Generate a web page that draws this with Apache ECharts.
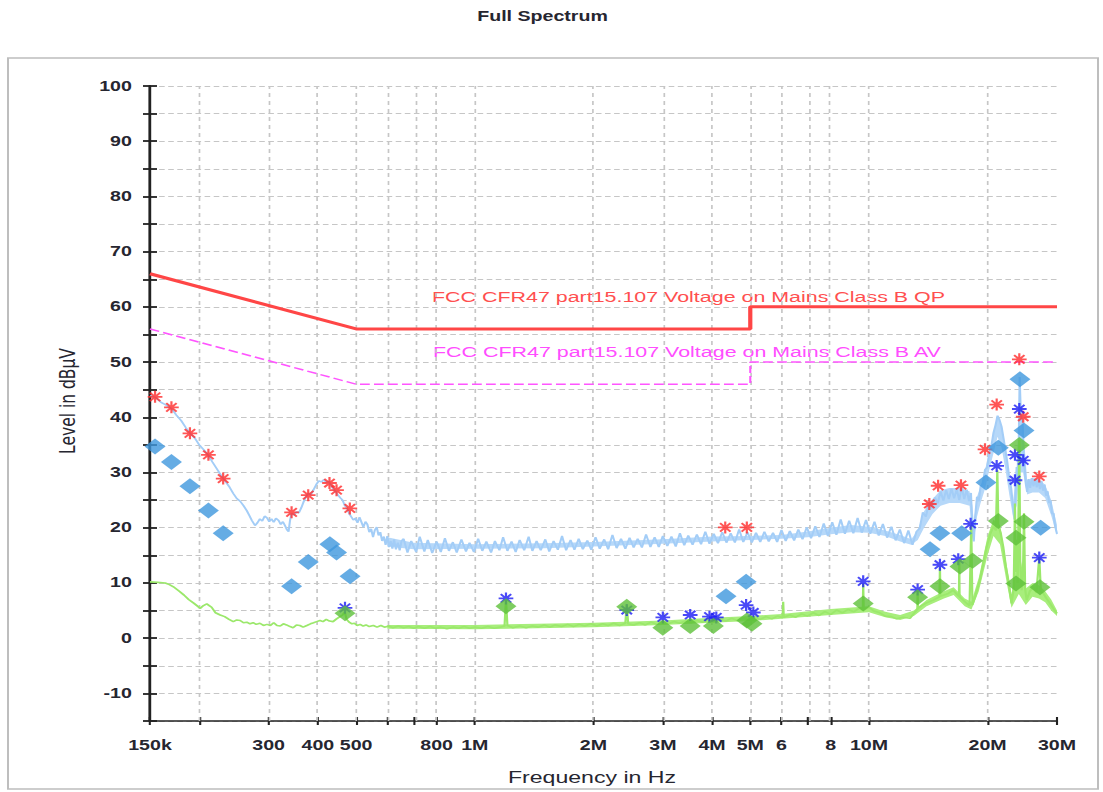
<!DOCTYPE html>
<html>
<head>
<meta charset="utf-8">
<script src="https://cdn.jsdelivr.net/npm/echarts@6/dist/echarts.min.js"></script>
<style>
  html, body { margin: 0; padding: 0; background: #fff; overflow: hidden; }
  #wrap { position: relative; width: 1103px; height: 792px; overflow: hidden; }
  #chart { position: absolute; left: 0; top: 0; height: 792px; transform-origin: 0 0; }
</style>
</head>
<body>
<div id="wrap"><div id="chart"></div></div>
<script>
// Frequencies are given in MHz, levels in dBµV.
const tickFreqs = [0.15, 0.2, 0.3, 0.4, 0.5, 0.6, 0.7, 0.8, 1, 2, 3, 4, 5, 6, 7, 8, 10, 20, 30];
const labelFreqs = [0.15, 0.3, 0.4, 0.5, 0.8, 1, 2, 3, 4, 5, 6, 8, 10, 20, 30];
const freqLabels = ['150k', '300', '400', '500', '800', '1M', '2M', '3M', '4M', '5M', '6', '8', '10M', '20M', '30M'];

// Limit lines (FCC part 15.107, class B)
const qpLimit = [[0.15, 66], [0.5, 56], [5, 56], [5, 60], [30, 60]];
const avLimit = [[0.15, 56], [0.5, 46], [5, 46], [5, 50], [30, 50]];

// Preview scan, peak detector
const qpTrace = [
  [0.150,43.9],[0.155,43.6],[0.160,42.7],[0.165,42.2],[0.170,41.6],[0.175,40.4],[0.180,39.4],[0.185,38.1],
  [0.190,37.0],[0.195,36.2],[0.200,35.0],[0.206,34.0],[0.211,33.1],[0.216,31.9],[0.222,30.6],[0.228,29.3],
  [0.233,28.4],[0.239,27.3],[0.244,26.2],[0.249,25.3],[0.254,24.8],[0.259,24.0],[0.264,23.1],[0.268,22.2],
  [0.272,21.3],[0.277,20.4],[0.281,20.9],[0.285,21.6],[0.289,21.2],[0.293,22.1],[0.297,21.8],[0.301,21.1],
  [0.305,21.6],[0.309,21.0],[0.313,21.7],[0.318,21.3],[0.322,20.6],[0.326,21.1],[0.330,20.4],[0.334,19.6],
  [0.337,19.3],[0.340,21.4],[0.343,22.6],[0.348,22.3],[0.353,22.9],[0.358,22.7],[0.363,23.6],[0.368,24.7],
  [0.373,25.6],[0.378,26.2],[0.384,26.0],[0.390,26.9],[0.396,27.8],[0.402,28.5],[0.408,28.3],[0.414,28.7],
  [0.420,28.2],[0.426,28.4],[0.432,27.6],[0.438,27.0],[0.444,26.5],[0.450,25.9],[0.456,25.4],[0.462,25.0],
  [0.468,24.0],[0.474,23.6],[0.480,22.6],[0.486,22.0],[0.492,21.4],[0.498,21.7],[0.504,20.9],[0.510,21.9],
  [0.516,21.0],[0.522,20.1],[0.528,21.1],[0.534,20.6],[0.540,19.2],[0.546,19.8],[0.552,18.3],[0.558,19.6],
  [0.564,20.1],[0.570,18.6],[0.576,19.2],[0.582,17.6],[0.588,18.4],[0.594,16.9],[0.600,18.5],[0.606,16.5],
  [0.612,17.6],[0.618,16.2],[0.624,17.9],[0.631,16.1],[0.638,17.3],[0.645,15.9],[0.652,17.6],
  [0.66,18.0],[0.675,15.5],[0.69,17.6],[0.71,15.6],[0.725,18.4],[0.745,15.7],[0.76,17.8],[0.78,15.4],
  [0.80,17.5],[0.82,15.6],[0.84,18.1],[0.86,15.8],[0.88,17.4],[0.90,15.5],[0.925,17.9],[0.95,15.7],
  [0.97,17.3],[0.995,15.6],[1.02,18.0],[1.045,15.8],[1.07,17.5],[1.10,15.5],[1.125,17.6],[1.155,15.9],
  [1.18,18.3],[1.21,15.8],[1.24,17.5],[1.27,15.6],[1.30,17.8],[1.335,15.9],[1.37,18.4],[1.40,15.8],
  [1.435,17.6],[1.47,15.9],[1.51,17.9],[1.545,15.7],[1.585,17.6],[1.625,16.0],[1.665,18.5],[1.705,15.9],
  [1.75,17.8],[1.79,16.0],[1.835,18.0],[1.88,16.1],[1.93,17.7],[1.975,16.0],[2.025,18.3],[2.075,16.2],
  [2.13,17.9],[2.18,16.1],[2.235,18.7],[2.29,16.3],[2.35,18.0],[2.41,16.2],[2.47,18.2],[2.53,16.4],
  [2.59,18.0],[2.655,16.4],[2.72,18.8],[2.79,16.5],[2.86,18.3],[2.93,16.5],[3.0,18.5],[3.08,16.7],
  [3.155,18.4],[3.235,16.6],[3.315,19.0],[3.4,16.8],[3.48,18.6],[3.57,16.9],[3.66,18.8],[3.75,17.0],
  [3.845,19.3],[3.94,17.1],[4.04,18.9],[4.14,17.2],[4.245,19.2],[4.35,17.3],[4.46,19.0],[4.57,17.3],
  [4.685,19.7],[4.8,17.4],[4.92,19.2],[5.045,17.3],[5.17,19.1],[5.3,17.4],[5.43,19.3],[5.57,17.5],
  [5.71,19.1],[5.85,17.4],[6.0,19.6],[6.15,17.6],[6.3,19.4],[6.46,17.7],[6.62,19.7],[6.785,17.9],
  [6.955,20.1],[7.13,18.1],[7.31,20.3],[7.49,18.3],[7.68,20.8],[7.87,18.5],[8.07,21.0],[8.27,18.7],
  [8.48,21.5],[8.69,18.9],[8.91,21.3],[9.13,19.0],[9.36,21.8],[9.59,19.1],[9.83,21.4],[10.08,18.9],
  [10.33,21.1],[10.59,18.6],[10.85,20.7],[11.12,18.2],[11.4,20.2],[11.69,17.7],[11.98,19.7],[12.28,17.2],
  [12.59,19.5],[12.9,16.9],[13.2,19.3],[13.45,19.9],[13.7,22.8],[13.95,22.0],[14.2,24.6],[14.45,23.5],
  [14.7,25.5],[14.95,24.4],[15.2,26.6],[15.45,24.9],[15.7,26.8],[15.95,25.2],[16.2,27.1],[16.45,25.3],
  [16.7,27.0],[16.95,25.0],[17.2,27.3],[17.45,25.2],[17.7,26.9],[17.95,24.8],[18.15,26.3],[18.3,19.5],
  [18.45,17.5],[18.6,22.0],[18.8,25.6],[19.0,24.8],[19.2,27.5],[19.45,27.9],[19.7,30.5],[19.95,30.9],
  [20.2,33.6],[20.45,34.8],[20.7,37.2],[20.95,38.6],[21.2,40.3],[21.45,39.5],[21.7,38.3],[21.95,36.2],
  [22.2,34.0],[22.45,31.8],[22.7,29.0],[22.95,27.2],[23.2,24.0],[23.4,21.5],[23.55,26.0],[23.7,31.0],
  [23.85,29.0],[24.0,36.0],[24.12,47.3],[24.25,42.0],[24.4,39.5],[24.55,38.8],[24.7,33.0],[24.85,30.5],
  [25.0,28.0],[25.2,26.5],[25.4,28.8],[25.65,27.2],[25.9,29.0],[26.15,27.5],[26.4,28.9],[26.65,27.3],
  [26.9,28.8],[27.15,27.0],[27.4,28.5],[27.65,26.7],[27.9,27.8],[28.15,25.8],[28.4,26.6],[28.65,24.5],
  [28.9,24.9],[29.15,22.5],[29.4,22.6],[29.65,20.4],[30.0,18.9]
];

// Dense core of the peak trace's noise floor: [MHz, low, high]
const qpNoiseBand = [
  [0.60,16.6,18.3],[0.70,16.1,17.3],[1.0,16.2,17.0],[1.5,16.3,17.2],[2.0,16.6,17.4],[3.0,17.1,17.9],
  [4.0,17.5,18.4],[5.0,17.8,18.5],[6.0,18.0,18.7],[7.0,18.3,19.3],[8.0,18.8,20.0],[9.0,19.2,20.5],
  [10.0,19.1,20.2],[11.0,18.5,19.5],[12.0,17.5,18.7],[12.8,16.9,17.9],[13.3,17.8,19.5],[13.8,20.0,23.0],
  [14.5,22.5,25.2],[15.2,24.0,26.8],[16.0,24.5,27.2],[17.0,24.5,27.2],[18.0,24.0,26.6],[18.3,18.5,24.0],
  [18.45,17.5,21.0],[18.8,22.0,25.6],[19.2,24.5,27.5],[19.7,27.0,30.5],[20.2,30.5,33.6],[20.7,33.5,37.2],
  [21.2,36.5,40.3],[21.7,34.5,38.3],[22.2,30.5,34.0],[22.7,26.0,29.0],[23.2,22.0,24.5],[23.7,24.0,31.0],
  [24.1,30.0,40.0],[24.6,30.0,38.5],[25.2,26.0,28.6],[26.0,26.4,29.0],[27.0,26.4,28.8],[28.0,25.4,27.8],
  [29.0,22.2,25.0],[30.0,18.6,20.5]
];

// Preview scan, average detector
const avTrace = [
  [0.150,10.2],[0.157,10.1],[0.164,10.0],[0.168,9.7],[0.172,9.3],[0.178,8.5],[0.183,7.8],[0.188,7.0],
  [0.194,6.3],[0.198,5.8],[0.201,5.4],[0.205,5.9],[0.209,6.2],[0.212,5.9],[0.215,5.6],[0.220,4.6],
  [0.226,4.2],[0.232,3.9],[0.238,3.4],[0.244,3.0],[0.249,3.3],[0.254,3.2],[0.259,2.8],[0.264,2.9],
  [0.269,2.6],[0.274,2.8],[0.279,2.5],[0.285,2.7],[0.291,2.3],[0.297,2.5],[0.303,2.3],[0.309,2.8],
  [0.315,2.3],[0.321,2.2],[0.327,2.6],[0.333,2.4],[0.340,2.1],[0.346,1.9],[0.353,2.4],[0.360,2.3],
  [0.367,2.0],[0.375,2.3],[0.383,2.6],[0.390,2.8],[0.397,3.0],[0.405,3.2],[0.412,3.0],[0.420,3.4],
  [0.428,3.1],[0.437,3.0],[0.446,3.5],[0.455,3.9],[0.462,4.2],[0.468,4.7],[0.473,3.4],[0.480,2.9],
  [0.488,2.6],[0.495,2.7],[0.503,2.3],[0.512,2.5],[0.521,2.2],[0.530,2.4],[0.540,2.1],[0.553,2.3],
  [0.565,2.0],[0.578,2.3],[0.590,2.0],[0.605,2.2],[0.62,1.9],[0.64,2.2],[0.66,1.9],[0.68,2.1],
  [0.70,1.8],[0.72,2.1],[0.745,1.8],[0.77,2.1],[0.795,1.8],[0.82,2.0],[0.85,1.7],[0.88,2.0],
  [0.91,1.8],[0.94,2.1],[0.97,1.8],[1.0,2.0],[1.04,1.8],[1.08,2.1],[1.12,1.8],[1.16,2.0],
  [1.19,2.2],[1.20,6.9],[1.21,2.3],[1.25,1.9],[1.3,2.2],[1.35,1.9],[1.4,2.2],[1.45,2.0],
  [1.5,2.4],[1.55,2.0],[1.6,2.4],[1.66,2.1],[1.72,2.5],[1.78,2.1],[1.84,2.5],[1.9,2.2],
  [1.97,2.6],[2.04,2.2],[2.11,2.6],[2.18,2.3],[2.25,2.7],[2.33,2.3],[2.41,2.7],[2.43,6.0],
  [2.45,2.6],[2.53,2.4],[2.62,2.8],[2.71,2.4],[2.8,2.9],[2.9,2.5],[3.0,2.9],[3.1,2.6],
  [3.2,3.0],[3.31,2.7],[3.42,3.1],[3.54,2.8],[3.66,3.2],[3.79,2.9],[3.92,3.3],[4.05,3.0],
  [4.19,3.4],[4.33,3.1],[4.48,3.6],[4.63,3.2],[4.79,3.6],[4.95,3.3],[5.12,3.8],[5.3,3.4],
  [5.48,3.9],[5.67,3.5],[5.86,4.0],[6.04,3.7],[6.06,6.6],[6.08,3.8],[6.3,4.2],[6.52,3.8],
  [6.75,4.4],[6.98,4.0],[7.22,4.6],[7.47,4.1],[7.73,4.8],[8.0,4.3],[8.28,5.1],[8.56,4.6],
  [8.86,5.2],[9.17,4.8],[9.48,5.5],[9.65,5.0],[9.67,9.8],[9.7,5.1],[10.0,5.6],[10.3,4.9],
  [10.66,4.6],[11.0,4.0],[11.4,3.9],[11.76,3.5],[12.2,3.8],[12.71,3.6],[13.0,4.5],[13.27,5.2],
  [13.29,8.5],[13.32,5.4],[13.6,5.9],[14.0,6.4],[14.56,6.9],[15.1,7.5],[15.14,12.8],[15.18,7.6],
  [15.9,8.1],[16.36,8.7],[16.7,8.0],[16.92,7.6],[16.95,14.0],[16.98,7.5],[17.4,6.8],[17.7,6.3],
  [18.0,5.9],[18.18,20.4],[18.3,6.0],[18.6,7.5],[19.12,10.5],[19.5,13.5],[19.89,16.5],[20.3,18.8],
  [20.68,20.2],[21.0,19.5],[21.17,30.4],[21.3,20.5],[21.6,19.0],[21.92,16.5],[22.25,13.0],[22.57,10.5],
  [23.0,6.3],[23.3,9.0],[23.47,24.4],[23.6,12.0],[23.7,17.8],[23.85,10.0],[24.07,35.9],[24.2,14.0],
  [24.4,8.7],[24.6,12.0],[24.74,22.6],[24.9,9.0],[25.13,6.9],[25.6,8.5],[26.12,9.3],[26.6,8.2],
  [27.05,14.7],[27.3,8.4],[27.7,8.1],[28.2,7.2],[28.8,6.3],[29.4,5.3],[30.0,4.5]
];

// Dense core of the average trace's noise floor: [MHz, low, high]
const avNoiseBand = [
  [0.60,1.7,2.4],[1.0,1.6,2.4],[2.0,2.0,2.8],[3.0,2.4,3.2],[4.0,2.8,3.7],[5.0,3.1,4.0],[6.0,3.5,4.4],
  [8.0,4.2,5.3],[10.0,4.7,5.8],[11.0,3.8,4.8],[12.0,3.3,4.2],[13.0,4.0,5.0],[14.0,5.8,6.9],[15.5,7.2,8.5],
  [16.4,7.8,9.2],[17.5,5.8,7.2],[18.2,5.2,6.6],[19.0,8.5,11.0],[20.0,15.0,18.5],[20.7,18.5,21.5],
  [21.5,17.0,20.5],[22.5,9.0,12.0],[23.0,5.5,8.0],[24.0,8.0,16.0],[25.0,6.0,9.0],[26.0,7.5,10.0],
  [27.0,7.2,9.6],[28.0,6.5,8.5],[29.0,5.0,7.0],[30.0,4.0,5.0]
];

// Peaks found in the preview scans
const qpPeaks = [
  [0.1545,43.7],[0.170,41.8],[0.1894,37.1],[0.211,33.2],[0.230,28.9],[0.343,22.8],[0.378,25.9],
  [0.428,28.1],[0.446,26.8],[0.482,23.5],[4.32,20.05],[4.90,20.05],[14.23,24.3],[14.98,27.6],
  [17.12,27.7],[19.70,34.2],[21.09,42.3],[24.07,50.5],[24.63,40.1],[27.05,29.3]
];
const avPeaks = [
  [0.4686,5.5],[1.2,7.2],[2.43,5.1],[3.0,3.75],[3.52,4.2],[3.94,3.9],[4.10,3.75],[4.88,6.0],
  [5.09,4.65],[9.67,10.3],[13.29,8.8],[15.14,13.3],[16.85,14.3],[18.11,20.7],[21.09,31.2],
  [23.47,33.2],[24.07,41.5],[24.63,32.2],[23.47,28.6],[27.05,14.6]
];

// Final measurements
const qpFinal = [
  [0.1545,34.7],[0.170,31.9],[0.1894,27.5],[0.211,23.1],[0.230,19.0],[0.343,9.4],[0.378,13.8],
  [0.429,17.0],[0.446,15.5],[0.4826,11.2],[4.34,7.6],[4.88,10.2],[14.29,16.1],[15.14,19.0],
  [17.19,19.0],[19.81,28.2],[21.29,34.5],[24.16,46.9],[24.74,37.6],[27.27,20.0]
];
const avFinal = [
  [0.4686,4.5],[1.2,5.8],[2.43,5.7],[3.0,1.9],[3.52,2.2],[4.03,2.2],[4.9,3.2],[5.05,2.6],
  [9.67,6.3],[13.29,7.4],[15.14,9.4],[17.02,13.0],[18.33,14.0],[21.29,21.2],[23.61,18.2],
  [24.07,35.0],[24.74,21.1],[23.61,9.9],[27.16,9.2]
];

// The plot is laid out on a narrower canvas and widened horizontally.
const SX = 1.4;
const W = 1103 / SX;
const el = document.getElementById('chart');
el.style.width = W + 'px';
el.style.transform = 'scaleX(' + SX + ')';

const lg = f => Math.log10(f * 1e6);
const pts = arr => arr.map(p => [lg(p[0]), p[1]]);
const X0 = 150 / SX, X1 = 1057 / SX;

const STAR = 'path://M-10,-1.5L10,-1.5L10,1.5L-10,1.5Z M-1.5,-10L1.5,-10L1.5,10L-1.5,10Z ' +
  'M-8.13,-6.01L-6.01,-8.13L8.13,6.01L6.01,8.13Z M6.01,-8.13L8.13,-6.01L-6.01,8.13L-8.13,6.01Z';

const FONT = '"Liberation Sans", Arial, sans-serif';
const labelText = v => {
  const i = labelFreqs.findIndex(f => Math.abs(lg(f) - v) < 1e-6);
  return i >= 0 ? freqLabels[i] : '';
};

// Filled band between a low and a high level, drawn as one polygon
function bandSeries(name, band, color, z) {
  return {
    name, type: 'custom', z, silent: true, clip: true,
    data: band.map(b => [lg(b[0]), b[1], b[2]]),
    encode: { x: 0, y: [1, 2] },
    renderItem: (params, api) => {
      if (params.dataIndex !== 0) return;
      const upper = band.map(b => api.coord([lg(b[0]), b[2]]));
      const lower = band.map(b => api.coord([lg(b[0]), b[1]])).reverse();
      return { type: 'polygon', shape: { points: upper.concat(lower) }, style: { fill: color } };
    }
  };
}

const chart = echarts.init(el, null, { renderer: 'svg', width: W, height: 792 });

chart.setOption({
  animation: false,
  backgroundColor: '#fff',
  grid: { left: X0, right: W - X1, top: 86, bottom: 71, containLabel: false, outerBoundsMode: 'none' },
  xAxis: [{
    type: 'value', position: 'bottom',
    min: lg(0.15), max: lg(30),
    axisLine: { show: true, onZero: false, lineStyle: { color: '#222', width: 1.7 } },
    axisTick: { show: true, inside: false, length: 4, customValues: tickFreqs.map(lg), lineStyle: { color: '#222', width: 1.5 } },
    axisLabel: {
      show: true, margin: 17, customValues: labelFreqs.map(lg), formatter: labelText,
      fontFamily: FONT, fontSize: 14, fontWeight: 'bold', color: '#262630',
      showMinLabel: true, showMaxLabel: true, hideOverlap: false
    },
    splitLine: { show: false }
  }, {
    type: 'value', position: 'bottom',
    min: lg(0.15), max: lg(30),
    axisLine: { show: false, onZero: false },
    axisTick: { show: true, inside: true, length: 4, customValues: tickFreqs.map(lg), lineStyle: { color: '#222', width: 1.5 } },
    axisLabel: { show: false },
    splitLine: { show: false }
  }],
  yAxis: [{
    type: 'value', position: 'left',
    min: -15, max: 100, interval: 5,
    axisLine: { show: true, onZero: false, lineStyle: { color: '#222', width: 2 } },
    axisTick: { show: true, inside: false, length: 5, lineStyle: { color: '#222', width: 1.8 } },
    axisLabel: {
      show: true, margin: 13, formatter: v => (v % 10 === 0 ? String(v) : ''),
      fontFamily: FONT, fontSize: 14, fontWeight: 'bold', color: '#262630'
    },
    splitLine: { show: true, lineStyle: { color: '#c6c6c6', width: 1, type: [4, 2.5] } }
  }, {
    type: 'value', position: 'left',
    min: -15, max: 100, interval: 5,
    axisLine: { show: false, onZero: false },
    axisTick: { show: true, inside: true, length: 5, lineStyle: { color: '#222', width: 1.8 } },
    axisLabel: { show: false },
    splitLine: { show: false }
  }],
  graphic: [
    { type: 'rect', z: -10, silent: true,
      shape: { x: 8 / SX, y: 58, width: 1090 / SX, height: 731 },
      style: { fill: 'none', stroke: '#bdbdbd', lineWidth: 1.4 } },
    { type: 'text', x: 542.5 / SX, y: 16.7, silent: true,
      style: { text: 'Full Spectrum', font: 'bold 14px ' + FONT, fill: '#262630', align: 'center', verticalAlign: 'middle' } },
    { type: 'text', x: 592 / SX, y: 777.5, silent: true,
      style: { text: 'Frequency in Hz', font: '16.5px ' + FONT, fill: '#262630', align: 'center', verticalAlign: 'middle' } },
    { type: 'text', x: 68 / SX, y: 401, rotation: Math.PI / 2, silent: true,
      style: { text: 'Level in dBµV', font: '15.5px "DejaVu Sans", sans-serif', fill: '#262630', align: 'center', verticalAlign: 'middle' } },
    { type: 'text', x: 432 / SX, y: 296.5, silent: true,
      style: { text: 'FCC CFR47 part15.107 Voltage on Mains Class B QP', font: '15.3px ' + FONT, fill: '#ff4f4f', align: 'left', verticalAlign: 'middle' } },
    { type: 'text', x: 433 / SX, y: 351.5, silent: true,
      style: { text: 'FCC CFR47 part15.107 Voltage on Mains Class B AV', font: '15.3px ' + FONT, fill: '#ff4dff', align: 'left', verticalAlign: 'middle' } }
  ],
  series: [
    { // vertical grid lines at the frequency ticks
      type: 'line', data: [], silent: true,
      markLine: {
        z: 1, silent: true, symbol: ['none', 'none'], label: { show: false }, animation: false,
        lineStyle: { color: '#c6c6c6', width: 1.2, type: [4, 4] },
        data: tickFreqs.slice(1).map(f => ({ xAxis: lg(f) }))
      }
    },
    bandSeries('Peak floor', qpNoiseBand, '#b6d8f9', 2),
    { name: 'Peak', type: 'line', data: pts(qpTrace), showSymbol: false, z: 2,
      lineStyle: { color: '#a3cdf7', width: 1.5 } },
    bandSeries('Average floor', avNoiseBand, '#a8ee7c', 3),
    { name: 'Average', type: 'line', data: pts(avTrace), showSymbol: false, z: 3,
      lineStyle: { color: '#9be86b', width: 1.6 } },
    { name: 'QP limit', type: 'line', data: pts(qpLimit), showSymbol: false, z: 4,
      lineStyle: { color: '#ff4646', width: 3 } },
    { name: 'AV limit', type: 'line', data: pts(avLimit), showSymbol: false, z: 4,
      lineStyle: { color: '#ff55ff', width: 1.5, type: [7, 3] } },
    { name: 'QP peaks', type: 'scatter', data: pts(qpPeaks), z: 5,
      symbol: STAR, symbolSize: [10.5, 12], itemStyle: { color: '#ff2a2a' } },
    { name: 'QP final', type: 'scatter', data: pts(qpFinal), z: 6,
      symbol: 'diamond', symbolSize: [15, 16], itemStyle: { color: '#3f97dd' } },
    { name: 'AV peaks', type: 'scatter', data: pts(avPeaks), z: 7,
      symbol: STAR, symbolSize: [10.5, 12], itemStyle: { color: '#1c1cf5' } },
    { name: 'AV final', type: 'scatter', data: pts(avFinal), z: 8,
      symbol: 'diamond', symbolSize: [15, 16], itemStyle: { color: '#5ec13a' } }
  ]
});
</script>
</body>
</html>
